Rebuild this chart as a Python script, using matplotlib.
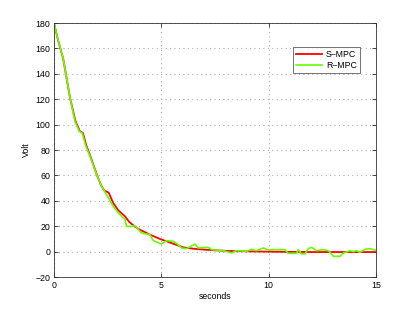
import matplotlib
matplotlib.use("Agg")
import matplotlib.pyplot as plt

plt.rcParams['font.family'] = ['Liberation Sans', 'DejaVu Sans']

# S-MPC (smooth decay)
t_s = [0, 0.2, 0.43, 0.75, 1.0, 1.2, 1.35, 1.5, 1.7, 2.0, 2.2, 2.35, 2.42, 2.55,
       2.76, 3.0, 3.31, 3.5, 3.77, 4.0, 4.47, 4.94, 5.5, 6.02, 6.5, 7.0, 7.58,
       8.2, 9.13, 10.0, 11.0, 12.0, 13.0, 14.0, 15.0]
v_s = [180, 166, 152, 121, 103, 95, 93.5, 84, 75, 60.5, 52, 48, 47.5, 46.5,
       38.3, 32.5, 27.8, 23.5, 19.7, 17.3, 13.4, 10.0, 6.6, 3.4, 2.3, 1.6, 1.0,
       0.5, 0.2, 0.0, -0.2, -0.3, -0.3, -0.3, -0.3]

# R-MPC (noisy response)
t_r = [0, 0.2, 0.43, 0.75, 0.98, 1.18, 1.32, 1.47, 1.68, 1.99, 2.22, 2.45,
       2.76, 3.0, 3.31, 3.38, 3.62, 3.77, 4.08, 4.47, 4.63, 5.0, 5.25, 5.56,
       5.71, 5.95, 6.18, 6.57, 6.72, 7.19, 7.35, 7.89, 8.28, 8.5, 8.98, 9.2,
       9.43, 9.75, 9.98, 10.14, 10.76, 10.91, 11.3, 11.38, 11.53, 11.69,
       11.85, 12.0, 12.23, 12.54, 12.78, 12.93, 13.01, 13.32, 13.47, 13.79,
       13.94, 14.1, 14.25, 14.49, 14.72, 14.95, 15.0]
v_r = [180, 166, 152, 121, 102.6, 94.7, 93.4, 84, 75, 60.6, 51.4, 44.9,
       35.7, 30.5, 25.2, 19.9, 19.9, 20.5, 14.7, 13.4, 8.7, 6.0, 8.7, 8.1,
       6.5, 2.9, 2.4, 6.0, 2.9, 3.4, 1.6, 0.8, -1.0, 0.8, 0.3, 1.8,
       0.8, 2.9, 1.3, 1.6, 1.6, -1.3, -1.3, 1.6, -1.8, -1.8,
       2.4, 3.4, 0.8, 1.6, 0.8, -1.8, -3.7, -3.7, -1.3, 0.8,
       0.0, 0.8, -0.5, 1.8, 2.4, 1.3, 1.3]

fig = plt.figure(figsize=(4.15, 3.12), dpi=100)
ax = fig.add_axes([0.130, 0.112, 0.776, 0.814])

ax.plot(t_s, v_s, color='#ff0000', lw=1.3, label='S\u2013MPC')
ax.plot(t_r, v_r, color='#66ff00', lw=1.2, label='R\u2013MPC')

ax.set_xlim(0, 15)
ax.set_ylim(-20, 180)
ax.set_xticks([0, 5, 10, 15])
ax.set_yticks(range(-20, 181, 20))
ax.yaxis.set_major_formatter(matplotlib.ticker.FuncFormatter(
    lambda v, p: ('\u2212%d' % -v) if v < 0 else '%d' % v))
ax.grid(True, color='#b0b0b0', linestyle=(0, (1, 3)), lw=0.8)
ax.tick_params(direction='in', labelsize=6.3, length=3, width=0.5, top=True, right=True, pad=2.5)
for s in ax.spines.values():
    s.set_linewidth(0.6)
    s.set_color('#333333')

ax.set_xlabel('seconds', fontsize=6.3, labelpad=2)
ax.set_ylabel('Volt', fontsize=6.3, labelpad=3)

leg = ax.legend(loc='upper right', bbox_to_anchor=(0.95, 0.906), fontsize=6.3,
                frameon=True, fancybox=False, edgecolor='#333333',
                handlelength=3.0, borderpad=0.35, labelspacing=0.25,
                handletextpad=0.4, borderaxespad=0)
leg.get_frame().set_linewidth(0.6)

fig.savefig('out.png', dpi=100)
